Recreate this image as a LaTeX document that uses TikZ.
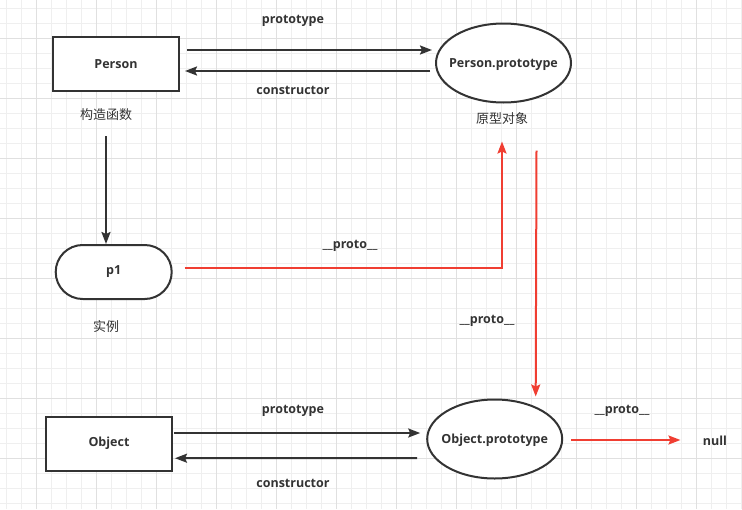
\documentclass[tikz,border=0pt]{standalone}
\usepackage{fontspec}
\setmainfont{Open Sans}
\newfontfamily\cjk{Noto Sans CJK SC}
\usetikzlibrary{arrows.meta,shapes.geometric}
\definecolor{ink}{HTML}{333333}
\definecolor{protored}{RGB}{240,62,50}
\definecolor{gridlight}{HTML}{EFEFEF}
\definecolor{griddark}{HTML}{E0E0E0}

\begin{document}
\begin{tikzpicture}
    [
        x=1pt,y=-1pt,
        box/.style={draw=ink,line width=2pt,fill=white,minimum width=126pt,minimum height=54pt,text=ink,font=\bfseries\fontsize{12.5}{15}\selectfont},
        oval/.style={ellipse,draw=ink,line width=2pt,fill=white,minimum width=135pt,minimum height=79pt,inner xsep=-25pt,text depth=0pt,text=ink,font=\bfseries\fontsize{12.5}{15}\selectfont},
        pill/.style={box,minimum width=116pt,rounded corners=27pt},
        tag/.style={text=ink,font=\bfseries\fontsize{12.5}{15}\selectfont},
        cjklabel/.style={text=ink,font=\cjk\fontsize{13}{15}\selectfont},
        arr/.style={draw=ink,line width=2pt,-{Stealth[length=12pt,width=9pt,inset=2pt]}},
        redarr/.style={draw=protored,line width=2pt,-{Stealth[length=12pt,width=9pt,inset=2pt]}},
    ]
    \useasboundingbox[fill=white] (0,0) rectangle (742,509);
    % The grid
    \foreach \gx in {6.5,21.5,...,742}
    \draw[gridlight,line width=1pt] (\gx,0) -- (\gx,509);
    \foreach \gy in {8.5,23.5,...,509}
    \draw[gridlight,line width=1pt] (0,\gy) -- (742,\gy);
    \foreach \gx in {36.5,96.5,...,742}
    \draw[griddark,line width=1pt] (\gx,0) -- (\gx,509);
    \foreach \gy in {38.5,98.5,...,509}
    \draw[griddark,line width=1pt] (0,\gy) -- (742,\gy);
    % The constructor and its prototype
    \node[box] (person) at (116,64) {Person};
    \node[cjklabel] (ctorlabel) at (106,115) {构造函数};
    \node[oval] (personproto) at (503.5,63) {Person.prototype};
    \node[cjklabel] (protolabel) at (502,119) {原型对象};
    \draw[arr] ([shift={(7,-14)}]person.east) -- ([shift={(-3,-13)}]personproto.west);
    \node[tag] (ptoplabel) at (293,21) {prototype};
    \draw[arr] ([shift={(-5,8)}]personproto.west) -- ([shift={(5,7)}]person.east);
    \node[tag] (ctoplabel) at (293,90) {constructor};
    % The instance
    \node[pill] (p1) at (113.7,272) {p1};
    \node[cjklabel] (instlabel) at (106,327) {实例};
    \draw[arr] ([shift={(-10,44)}]person.south) -- (ctorlabel |- p1.north);
    % Object and its prototype
    \node[box] (object) at (109,443.7) {Object};
    \node[oval] (objectproto) at (494.7,439) {Object.prototype};
    \node[tag] (null) at (715,441) {null};
    \draw[arr] ([shift={(1,-10.7)}]object.east) -- ([shift={(-6,-6)}]objectproto.west);
    \node[tag] (pbotlabel) at (293,411) {prototype};
    \draw[arr] ([shift={(-9,19)}]objectproto.west) -- ([shift={(2,14.5)}]object.east);
    \node[tag] (cbotlabel) at (293,483) {constructor};
    % The proto chain
    \draw[redarr] ([shift={(12,-4)}]p1.east) -| ([shift={(-1.5,38)}]personproto.south);
    \node[tag] (chainone) at (350,246) {\_\_proto\_\_};
    \draw[redarr] ([shift={(33,47)}]personproto.south) -- ([shift={(41,-2)}]objectproto.north);
    \node[tag] (chaintwo) at (487,321) {\_\_proto\_\_};
    \draw[redarr] ([shift={(8,1)}]objectproto.east) -- ([shift={(-19,-1)}]null.west);
    \node[tag] (chainthree) at (622,411) {\_\_proto\_\_};
\end{tikzpicture}
\end{document}
